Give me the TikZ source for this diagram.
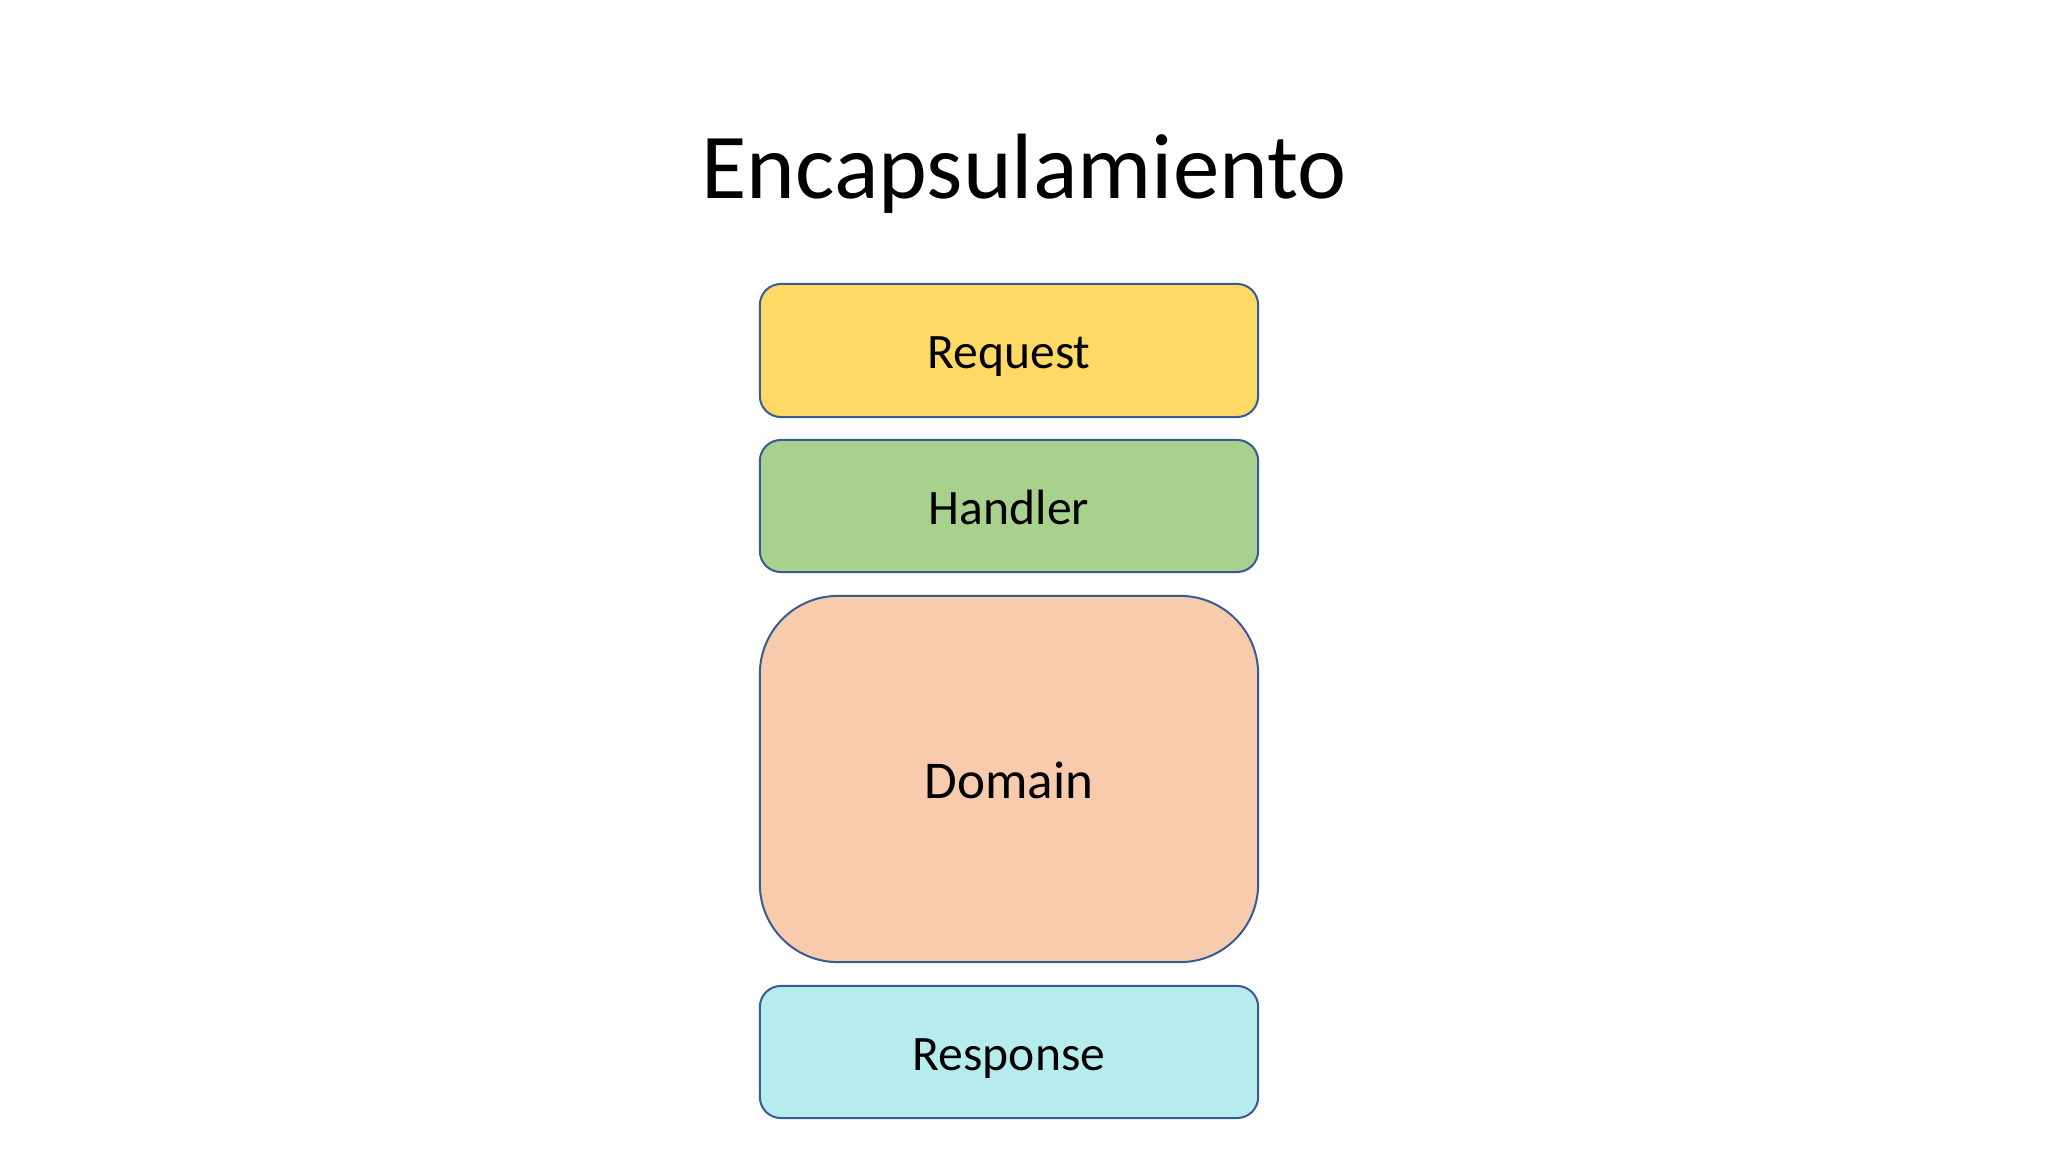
\documentclass[tikz,border=0pt]{standalone}
\usepackage{fontspec}
\setmainfont{Carlito}
\definecolor{reqfill}{HTML}{FFD966}
\definecolor{handfill}{HTML}{A9D18E}
\definecolor{domfill}{HTML}{F8CBAD}
\definecolor{respfill}{HTML}{B7ECEE}
\definecolor{edgeblue}{HTML}{3A5A92}
\begin{document}
\begin{tikzpicture}[x=0.01cm,y=-0.01cm,
  layerbox/.style={draw=edgeblue, line width=0.2mm, rounded corners=2.1mm,
    minimum width=4.98cm, inner sep=0pt, text height=1.05em, text depth=0pt,
    font=\fontsize{14.1pt}{16pt}\selectfont},
  titletext/.style={font=\fontsize{26.4pt}{30pt}\selectfont, inner sep=0pt}]
\useasboundingbox[fill=white] (0,0) rectangle (2048,1152);
\node[titletext, anchor=base] (title) at (1024,199) {Encapsulamiento};
\node[layerbox, fill=reqfill, minimum height=1.33cm] (req) at (1009,350.5) {Request};
\node[layerbox, fill=handfill, minimum height=1.32cm] (hand) at (1009,506) {Handler};
\node[layerbox, fill=domfill, minimum height=3.66cm, rounded corners=7.8mm,
  text height=1.12em, font=\fontsize{15.1pt}{17pt}\selectfont] (dom) at (1009,779) {Domain};
\node[layerbox, fill=respfill, minimum height=1.32cm] (resp) at (1009,1052) {Response};
\end{tikzpicture}
\end{document}
